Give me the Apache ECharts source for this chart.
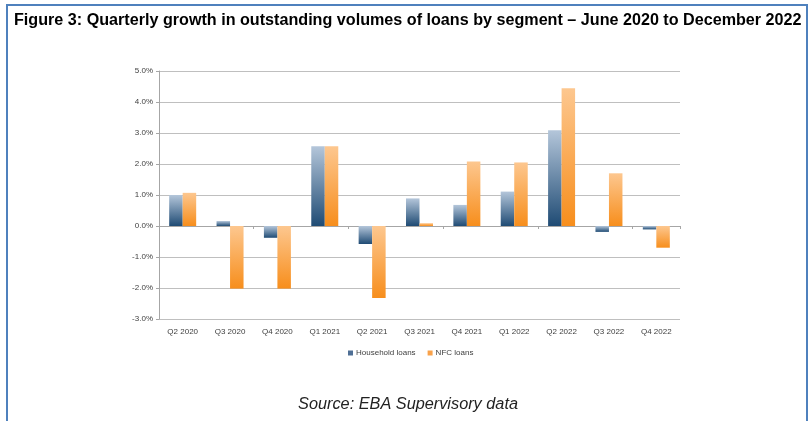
<!DOCTYPE html>
<html>
<head>
<meta charset="utf-8">
<script src="https://cdn.jsdelivr.net/npm/echarts@6/dist/echarts.min.js"></script>
<style>
html,body{margin:0;padding:0;background:#fff;}
#chart{width:811px;height:421px;}
</style>
</head>
<body>
<div id="chart"></div>
<script>
var categories = ['Q2 2020','Q3 2020','Q4 2020','Q1 2021','Q2 2021','Q3 2021','Q4 2021','Q1 2022','Q2 2022','Q3 2022','Q4 2022'];
var householdLoans = [1.00, 0.16, -0.38, 2.57, -0.58, 0.89, 0.68, 1.11, 3.09, -0.19, -0.11];
var nfcLoans = [1.07, -2.02, -2.02, 2.57, -2.32, 0.09, 2.08, 2.05, 4.44, 1.70, -0.70];
var titleText = 'Figure 3: Quarterly growth in outstanding volumes of loans by segment \u2013 June 2020 to December 2022';
var sourceText = 'Source: EBA Supervisory data';

function fitFont(text, weight, style, family, targetWidth) {
  var c = document.createElement('canvas').getContext('2d');
  c.font = style + ' ' + weight + ' 20px ' + family;
  var w = c.measureText(text).width;
  return 20 * targetWidth / w;
}
var titleFamily = '"Liberation Sans", Arial, sans-serif';
var titleSize = fitFont(titleText, 'bold', 'normal', titleFamily, 788);
var sourceSize = fitFont(sourceText, 'normal', 'italic', titleFamily, 220);

var chart = echarts.init(document.getElementById('chart'), null, {renderer: 'canvas'});
var hhGrad = new echarts.graphic.LinearGradient(0, 0, 0, 1, [
  {offset: 0, color: '#b4c6da'}, {offset: 1, color: '#1f4b74'}]);
var nfcGrad = new echarts.graphic.LinearGradient(0, 0, 0, 1, [
  {offset: 0, color: '#fdc78f'}, {offset: 1, color: '#f78e1c'}]);

var labelStyle = {fontFamily: '"Liberation Sans", Arial, sans-serif', fontSize: 8, color: '#404040'};

chart.setOption({
  animation: false,
  backgroundColor: '#fff',
  grid: {left: 159, right: 131, top: 71, bottom: 102, containLabel: false},
  legend: {
    left: 343, top: 344,
    itemWidth: 5, itemHeight: 5, itemGap: 12,
    icon: 'rect',
    textStyle: {fontFamily: labelStyle.fontFamily, fontSize: 8, color: '#404040', padding: [0,0,0,-2]},
    data: [{name: 'Household loans', itemStyle: {color: '#4f6f95'}}, {name: 'NFC loans', itemStyle: {color: '#f9a24a'}}]
  },
  xAxis: [{
    type: 'category', data: categories,
    axisLine: {show: false, onZero: false}, axisTick: {show: false},
    axisLabel: Object.assign({margin: 9}, labelStyle)
  }, {
    type: 'category', data: categories, position: 'bottom',
    axisLine: {show: true, onZero: true, lineStyle: {color: '#a6a6a6', width: 1}},
    axisTick: {show: true, length: 3, lineStyle: {color: '#a6a6a6'}},
    axisLabel: {show: false}
  }],
  yAxis: {
    type: 'value', min: -3, max: 5, interval: 1,
    axisLine: {show: true, lineStyle: {color: '#a6a6a6'}},
    axisTick: {show: true, length: 3, lineStyle: {color: '#a6a6a6'}},
    splitLine: {lineStyle: {color: '#bfbfbf', width: 1.2}},
    axisLabel: Object.assign({margin: 6, formatter: function(v){return v.toFixed(1) + '%';}}, labelStyle)
  },
  series: [{
    name: 'Household loans', type: 'bar', data: householdLoans,
    barWidth: 13.5, barGap: '0%',
    itemStyle: {color: hhGrad}
  }, {
    name: 'NFC loans', type: 'bar', data: nfcLoans,
    barWidth: 13.5, barGap: '0%',
    itemStyle: {color: nfcGrad}
  }],
  graphic: [{
    type: 'rect', shape: {x: 7, y: 5, width: 800, height: 440},
    style: {fill: 'none', stroke: '#4f81bd', lineWidth: 2}, z: 100, silent: true
  }, {
    type: 'text', left: 14, top: 13,
    style: {text: titleText, font: 'bold ' + titleSize.toFixed(2) + 'px ' + titleFamily, fill: '#000'}
  }, {
    type: 'text', x: 408, y: 404,
    style: {text: sourceText, font: 'italic ' + sourceSize.toFixed(2) + 'px ' + titleFamily, fill: '#222', textAlign: 'center', textVerticalAlign: 'middle'}
  }]
});
</script>
</body>
</html>
